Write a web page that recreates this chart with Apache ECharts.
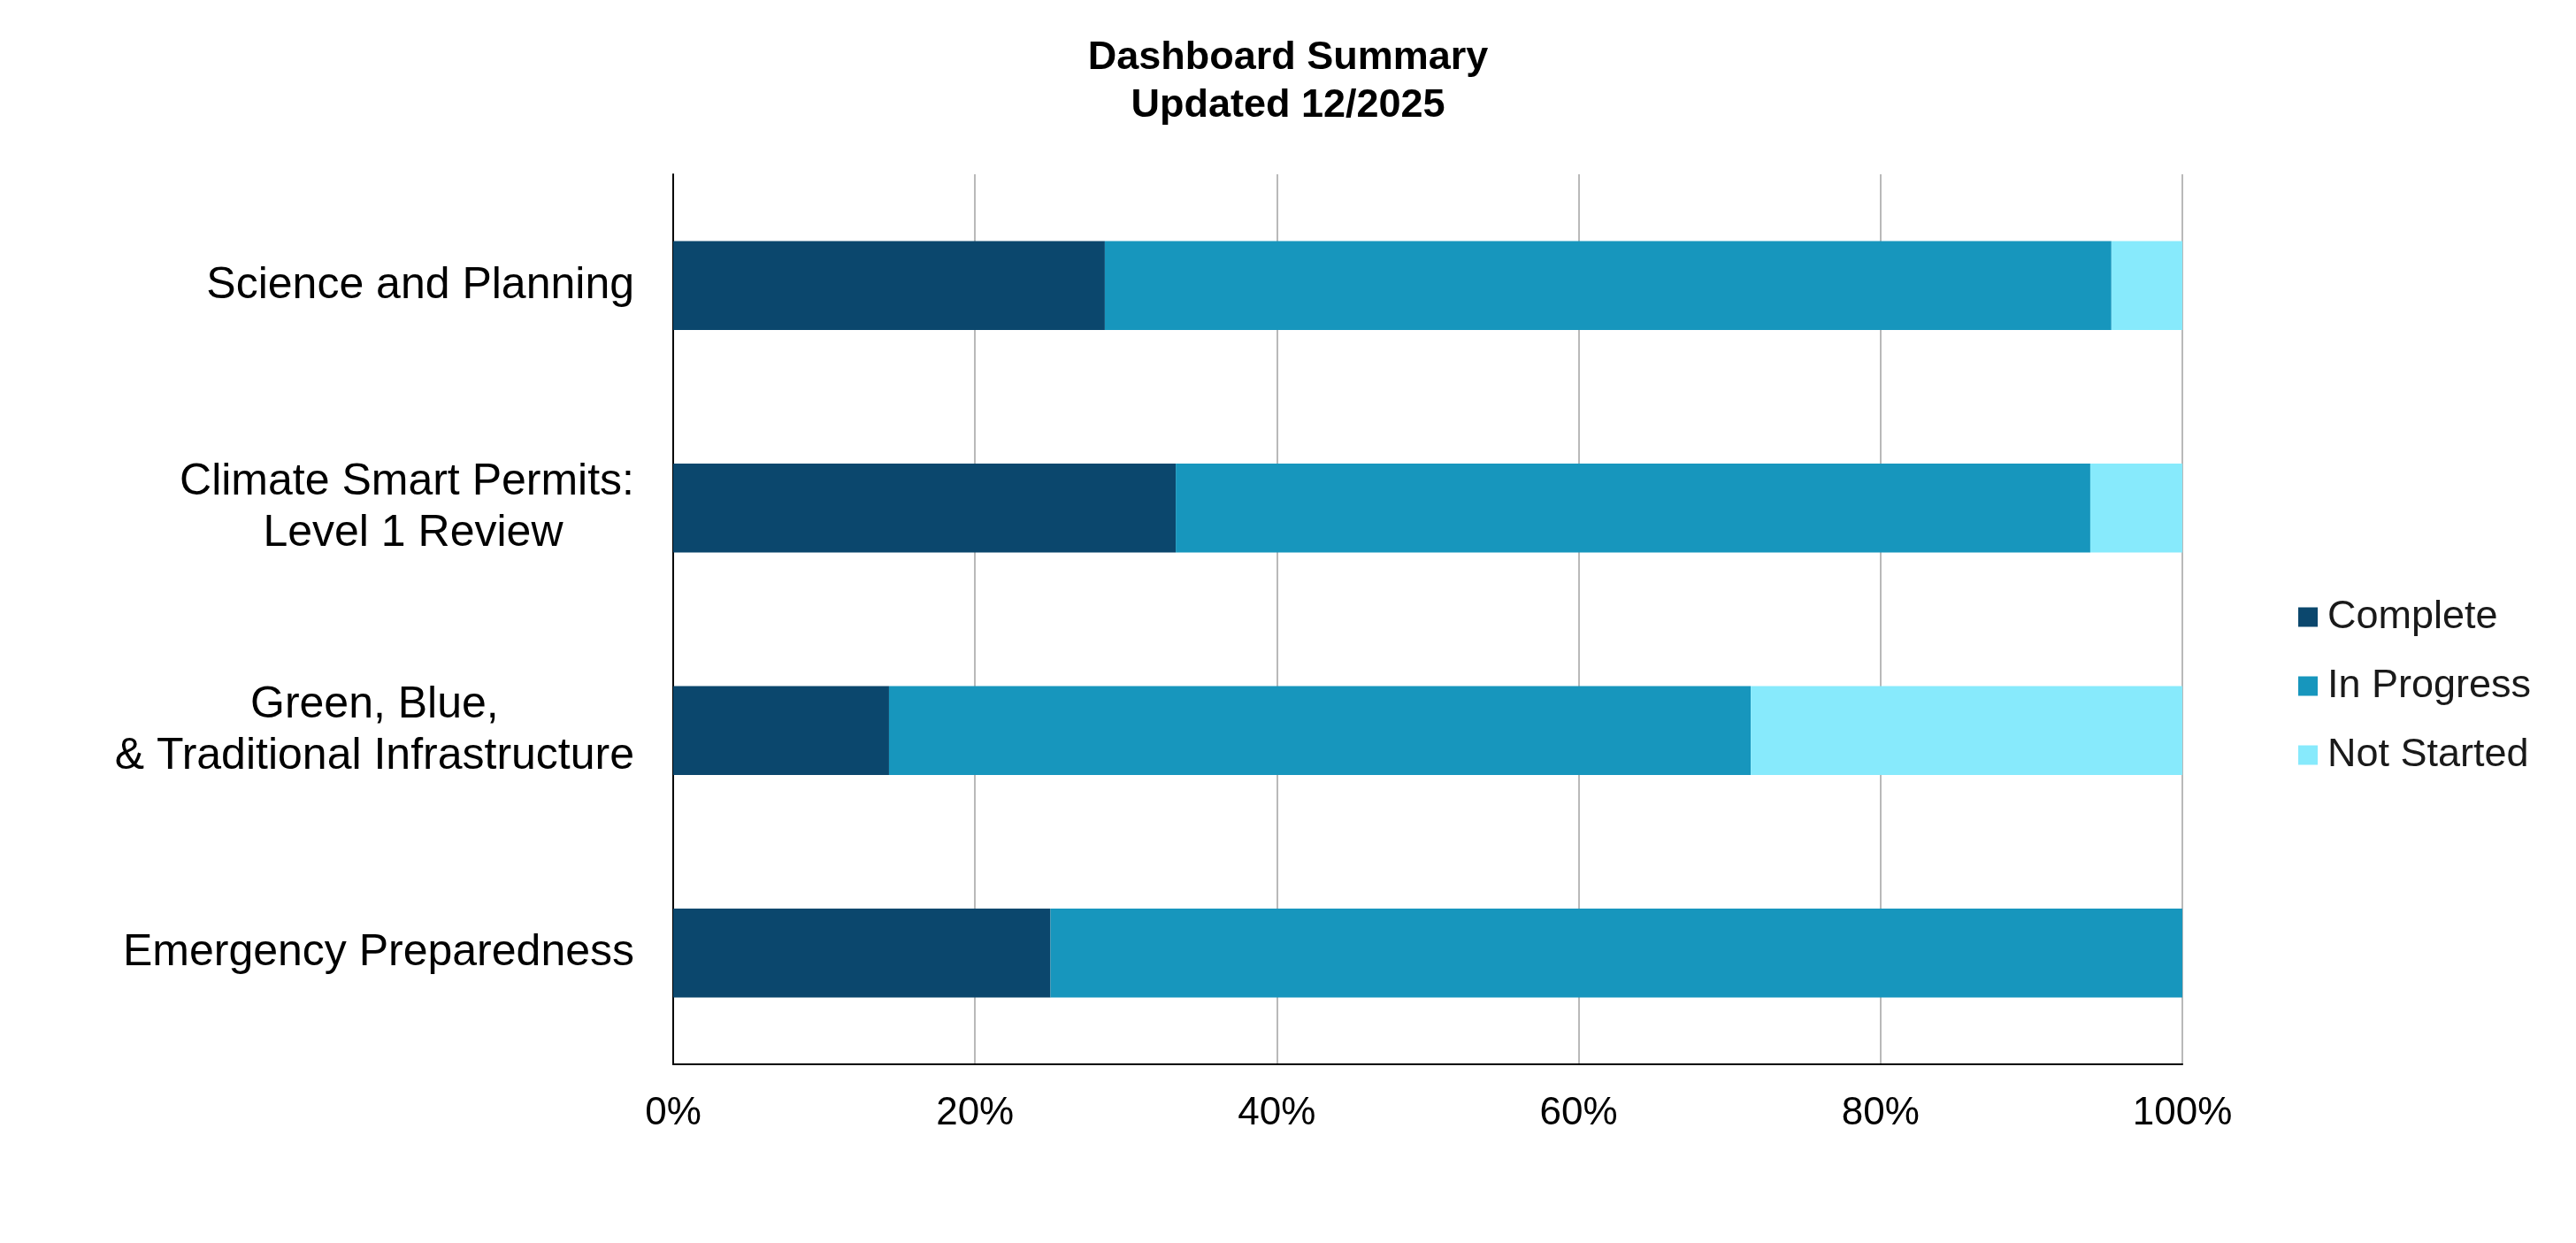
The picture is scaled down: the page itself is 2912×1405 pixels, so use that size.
<!DOCTYPE html>
<html>
<head>
<meta charset="utf-8">
<script src="https://cdn.jsdelivr.net/npm/echarts@6/dist/echarts.min.js"></script>
<style>
  html, body { margin: 0; padding: 0; background: #ffffff; }
  #chart { width: 2912px; height: 1405px; }
</style>
</head>
<body>
<div id="chart"></div>
<script>
// ---- Data (percent of items per program area) ----
const categories = [
  'Science and Planning',
  'Climate Smart Permits:\n Level 1 Review',
  'Green, Blue,\n& Traditional Infrastructure',
  'Emergency Preparedness'
];
const completeValues   = [28.6, 33.3, 14.3, 25.0];
const inProgressValues = [66.7, 60.6, 57.1, 75.0];
const notStartedValues = [4.7, 6.1, 28.6, 0.0];
const seriesNames = ['Complete', 'In Progress', 'Not Started'];
const xTicks = [0, 20, 40, 60, 80, 100];
const titleLines = ['Dashboard Summary', 'Updated 12/2025'];

const FONT = '"Liberation Sans", Arial, Helvetica, sans-serif';
const colors = ['#0B476D', '#1796BD', '#87EAFC'];

const chart = echarts.init(document.getElementById('chart'), null, { renderer: 'canvas' });

function mkSeries(name, data, color) {
  return {
    name: name,
    type: 'bar',
    stack: 'total',
    data: data,
    barCategoryGap: '60%',
    itemStyle: { color: color },
    emphasis: { disabled: true }
  };
}

chart.setOption({
  animation: false,
  backgroundColor: '#ffffff',
  title: {
    text: titleLines.join('\n'),
    left: 'center',
    top: 34,
    textStyle: {
      fontFamily: FONT,
      fontWeight: 'bold',
      fontSize: 45,
      lineHeight: 54,
      color: '#000000'
    }
  },
  legend: {
    orient: 'vertical',
    left: 2598,
    top: 675,
    padding: 0,
    itemWidth: 22,
    itemHeight: 22,
    itemGap: 33,
    icon: 'rect',
    data: seriesNames,
    textStyle: {
      fontFamily: FONT,
      fontSize: 45,
      lineHeight: 45,
      color: '#1a1a1a',
      padding: [0, 0, 0, 6]
    }
  },
  grid: {
    left: 761,
    right: 445,
    top: 197,
    bottom: 202,
    containLabel: false
  },
  xAxis: {
    type: 'value',
    min: 0,
    max: 100,
    interval: 20,
    axisLine: { show: true, lineStyle: { color: '#000000', width: 2 } },
    axisTick: { show: false },
    splitLine: { show: true, lineStyle: { color: '#b9b9b9', width: 2 } },
    axisLabel: {
      margin: 34,
      fontFamily: FONT,
      fontSize: 44,
      color: '#000000',
      formatter: function (v) { return xTicks.indexOf(v) >= 0 ? v + '%' : ''; }
    }
  },
  yAxis: {
    type: 'category',
    inverse: true,
    data: categories,
    axisLine: { show: true, lineStyle: { color: '#000000', width: 2 } },
    axisTick: { show: false },
    splitLine: { show: false },
    axisLabel: {
      margin: 44,
      fontFamily: FONT,
      fontSize: 50,
      lineHeight: 58,
      color: '#000000',
      formatter: function (v) {
        return v.split('\n').map(function (l) { return '{c|' + l + '}'; }).join('\n');
      },
      rich: {
        c: {
          align: 'center',
          fontFamily: FONT,
          fontSize: 50,
          lineHeight: 58,
          color: '#000000'
        }
      }
    }
  },
  series: [
    mkSeries(seriesNames[0], completeValues, colors[0]),
    mkSeries(seriesNames[1], inProgressValues, colors[1]),
    mkSeries(seriesNames[2], notStartedValues, colors[2])
  ]
});
</script>
</body>
</html>
